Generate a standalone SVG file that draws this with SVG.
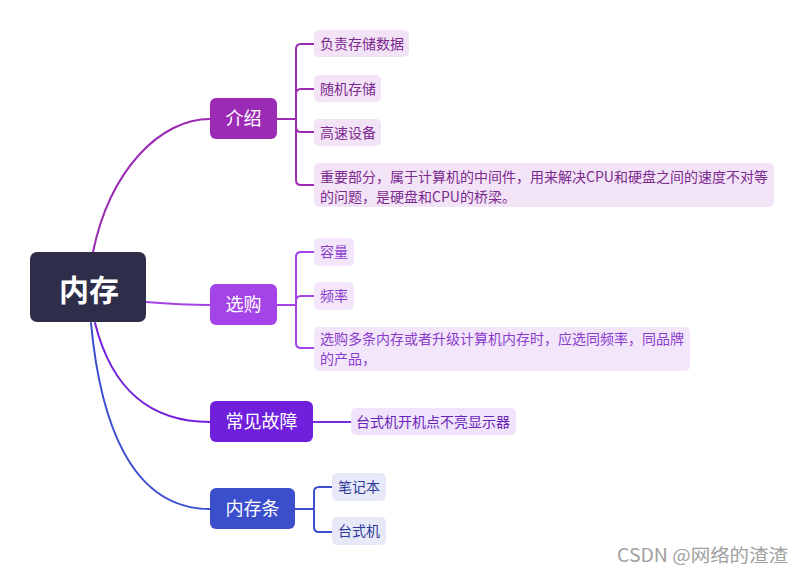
<svg xmlns="http://www.w3.org/2000/svg" width="804" height="575" viewBox="0 0 804 575">
<style>
text{font-family:"Microsoft YaHei","Noto Sans CJK SC","Noto Sans",sans-serif}
.main{fill:#fff;font-size:18px;text-anchor:middle}
.leaf{font-size:14px}
.c{fill:none;stroke-width:2;stroke-linecap:round}
</style>
<rect width="804" height="575" fill="#fff"/>
<g id="connectors">
  <path class="c" stroke="#9b2bb5" d="M93,252 C110,170 160,119 210,119"/>
  <path class="c" stroke="#a443e8" d="M146,302 C170,304 185,305 210,305"/>
  <path class="c" stroke="#7420da" d="M95,323 C112,390 150,422 210,422"/>
  <path class="c" stroke="#3b4fcd" d="M91,323 C100,420 130,509 210,509"/>
  <g stroke="#9b2bb5" class="c">
    <path d="M277,119 H296 V49 Q296,44 301,44 H314"/>
    <path d="M277,119 H296 V94 Q296,89 301,89 H314"/>
    <path d="M277,119 H296 V127 Q296,132 301,132 H314"/>
    <path d="M277,119 H296 V180 Q296,185 301,185 H314"/>
  </g>
  <g stroke="#a443e8" class="c">
    <path d="M277,305 H296 V257 Q296,252 301,252 H314"/>
    <path d="M277,305 H296 V301 Q296,296 301,296 H314"/>
    <path d="M277,305 H296 V343 Q296,348 301,348 H314"/>
  </g>
  <path class="c" stroke="#7a2ad8" d="M313,422 H351"/>
  <g stroke="#3b4fcd" class="c">
    <path d="M295,509 H314 V492 Q314,487 319,487 H332"/>
    <path d="M295,509 H314 V527 Q314,532 319,532 H332"/>
  </g>
</g>
<g id="root">
  <rect x="30" y="252" width="116" height="70" rx="7" fill="#2e2e4b"/>
  <text x="89" y="301" fill="#fff" font-size="30" font-weight="bold" text-anchor="middle">内存</text>
</g>
<g id="n-jieshao">
  <rect x="210" y="98" width="67" height="41" rx="6" fill="#9b2bb5"/>
  <text class="main" x="243.5" y="125">介绍</text>
</g>
<g id="n-xuangou">
  <rect x="210" y="284" width="67" height="41" rx="6" fill="#a443e8"/>
  <text class="main" x="243.5" y="311">选购</text>
</g>
<g id="n-guzhang">
  <rect x="210" y="401" width="103" height="41" rx="6" fill="#7020dc"/>
  <text class="main" x="261.5" y="428">常见故障</text>
</g>
<g id="n-neicuntiao">
  <rect x="210" y="488" width="85" height="41" rx="6" fill="#3b4fcd"/>
  <text class="main" x="252.5" y="515">内存条</text>
</g>
<g id="l1" fill="#7b2a90">
  <rect x="314" y="30" width="95" height="27" rx="5" fill="#f3e3f6"/>
  <text class="leaf" x="320" y="49">负责存储数据</text>
</g>
<g id="l2" fill="#7b2a90">
  <rect x="314" y="75" width="67" height="27" rx="5" fill="#f3e3f6"/>
  <text class="leaf" x="320" y="94">随机存储</text>
</g>
<g id="l3" fill="#7b2a90">
  <rect x="314" y="119" width="67" height="27" rx="5" fill="#f3e3f6"/>
  <text class="leaf" x="320" y="138">高速设备</text>
</g>
<g id="l4" fill="#7b2a90">
  <rect x="314" y="163" width="460" height="44" rx="5" fill="#f3e3f6"/>
  <text class="leaf" x="320" y="182">重要部分，属于计算机的中间件，用来解决CPU和硬盘之间的速度不对等</text>
  <text class="leaf" x="320" y="202">的问题，是硬盘和CPU的桥梁。</text>
</g>
<g id="l5" fill="#8a3ccc">
  <rect x="314" y="238" width="40" height="28" rx="5" fill="#f3e6fb"/>
  <text class="leaf" x="320" y="257">容量</text>
</g>
<g id="l6" fill="#8a3ccc">
  <rect x="314" y="282" width="40" height="28" rx="5" fill="#f3e6fb"/>
  <text class="leaf" x="320" y="301">频率</text>
</g>
<g id="l7" fill="#8a3ccc">
  <rect x="314" y="327" width="376" height="44" rx="5" fill="#f3e6fb"/>
  <text class="leaf" x="320" y="344">选购多条内存或者升级计算机内存时，应选同频率，同品牌</text>
  <text class="leaf" x="320" y="364">的产品，</text>
</g>
<g id="l8" fill="#6a24b8">
  <rect x="351" y="408" width="165" height="27" rx="5" fill="#efe4fb"/>
  <text class="leaf" x="356" y="427">台式机开机点不亮显示器</text>
</g>
<g id="l9" fill="#2e3a9a">
  <rect x="332" y="473" width="54" height="28" rx="5" fill="#e7e9f8"/>
  <text class="leaf" x="338" y="492">笔记本</text>
</g>
<g id="l10" fill="#2e3a9a">
  <rect x="332" y="517" width="54" height="28" rx="5" fill="#e7e9f8"/>
  <text class="leaf" x="338" y="536">台式机</text>
</g>
<text x="617" y="562" font-size="18" fill="#a0a0a0" textLength="171" lengthAdjust="spacingAndGlyphs">CSDN @网络的渣渣</text>
</svg>
